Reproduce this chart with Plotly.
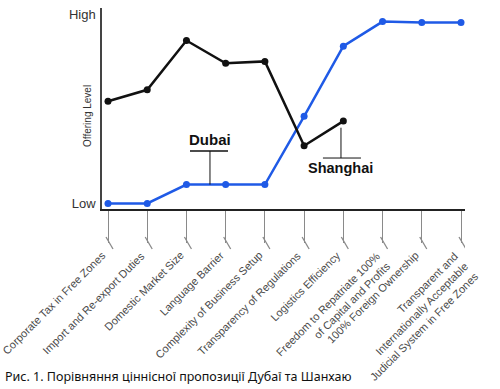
import plotly.graph_objects as go

categories = [
    "Corporate Tax in Free Zones",
    "Import and Re-export Duties",
    "Domestic Market Size",
    "Language Barrier",
    "Complexity of Business Setup",
    "Transparency of Regulations",
    "Logistics Efficiency",
    "Freedom to Repatriate 100%<br>of Capital and Profits",
    "100% Foreign Ownership",
    "Transparent and<br>Internationally Acceptable<br>Judicial System in Free Zones",
]
dubai = [0.0, 0.0, 1.0, 1.0, 1.0, 4.6, 8.3, 9.6, 9.55, 9.55]
shanghai = [5.4, 6.0, 8.6, 7.4, 7.5, 3.05, 4.35]
y_tick_vals = [0, 10]
y_tick_text = ["Low", "High"]
caption = "Рис. 1. Порівняння ціннісної пропозиції Дубаї та Шанхаю"

idx = list(range(len(categories)))
BLUE = "#1f5ae6"
BLACK = "#111111"
LABEL_SIZE = 11
LH = LABEL_SIZE * 1.3

fig = go.Figure()
fig.add_trace(go.Scatter(x=idx, y=dubai, mode="lines+markers",
                         line=dict(color=BLUE, width=2.5),
                         marker=dict(color=BLUE, size=7), cliponaxis=False,
                         showlegend=False, hoverinfo="skip"))
fig.add_trace(go.Scatter(x=idx[:len(shanghai)], y=shanghai, mode="lines+markers",
                         line=dict(color=BLACK, width=2.5),
                         marker=dict(color=BLACK, size=7), cliponaxis=False,
                         showlegend=False, hoverinfo="skip"))

shapes = []
# slash caps at end of each tick
for i in idx:
    shapes.append(dict(type="line", xref="x", yref="paper", xsizemode="pixel",
                       ysizemode="pixel", xanchor=i, yanchor=0,
                       x0=-2, x1=5, y0=-28, y1=-40,
                       line=dict(color="#8a8a8a", width=1.3)))
# Dubai leader
shapes.append(dict(type="line", xref="x", yref="y", x0=2.09, x1=3.06, y0=2.77, y1=2.77,
                   line=dict(color="#111", width=1.5)))
shapes.append(dict(type="line", xref="x", yref="y", x0=2.6, x1=2.6, y0=2.77, y1=1.0,
                   line=dict(color="#111", width=1)))
# Shanghai leader
shapes.append(dict(type="line", xref="x", yref="y", x0=5.48, x1=6.45, y0=2.4, y1=2.4,
                   line=dict(color="#111", width=1)))
shapes.append(dict(type="line", xref="x", yref="y", x0=5.94, x1=5.94, y0=2.4, y1=4.0,
                   line=dict(color="#111", width=1)))

annotations = [
    dict(text="<b>Dubai</b>", x=2.6, y=3.4, xref="x", yref="y", showarrow=False,
         font=dict(family="Liberation Sans, Arial", size=15, color="#111")),
    dict(text="<b>Shanghai</b>", x=5.92, y=1.87, xref="x", yref="y", showarrow=False,
         font=dict(family="Liberation Sans, Arial", size=14.5, color="#111")),
    dict(text="Offering Level", xref="paper", yref="paper", x=0, y=0.463,
         xshift=-14, textangle=-90, showarrow=False, xanchor="center", yanchor="middle",
         font=dict(family="Liberation Sans, Arial", size=10, color="#333")),
    dict(text=caption, xref="paper", yref="paper", x=0, y=0, xshift=-99, yshift=-167,
         xanchor="left", yanchor="middle", showarrow=False,
         font=dict(family="Noto Sans", size=12.5, color="#111")),
]

# rotated category labels (right-aligned, first line ending just below each tick)
for i, lab in zip(idx, categories):
    n = lab.count("<br>") + 1
    annotations.append(dict(
        text=lab, x=i, y=0, xref="x", yref="paper", showarrow=False,
        textangle=-45, align="right", xanchor="right", yanchor="top", borderpad=0,
        xshift=-4 + 0.707 * LH * (n - 0.5), yshift=-44 + 0.707 * LH / 2,
        font=dict(family="Liberation Sans, Arial", size=LABEL_SIZE, color="#4a4a4a")))

fig.update_layout(
    width=500, height=389,
    margin=dict(l=102, r=35, t=8, b=180),
    plot_bgcolor="white", paper_bgcolor="white",
    shapes=shapes, annotations=annotations,
    xaxis=dict(range=[-0.153, 9.102], tickmode="array", tickvals=idx,
               ticktext=[""] * len(idx), showticklabels=True,
               ticks="outside", ticklen=32, tickwidth=1.3,
               tickcolor="#8a8a8a", showgrid=False, zeroline=False,
               showline=True, linecolor="#222", linewidth=1.6),
    yaxis=dict(range=[-0.29, 10.317], tickmode="array", tickvals=y_tick_vals,
               ticktext=y_tick_text, ticks="", showgrid=False, zeroline=False,
               showline=True, linecolor="#444", linewidth=1.5, ticklabelstandoff=2,
               tickfont=dict(family="Liberation Sans, Arial", size=13, color="#333")),
)

fig.write_html("out.html", post_script="document.body.style.margin='0';",
               config={"displayModeBar": False})
